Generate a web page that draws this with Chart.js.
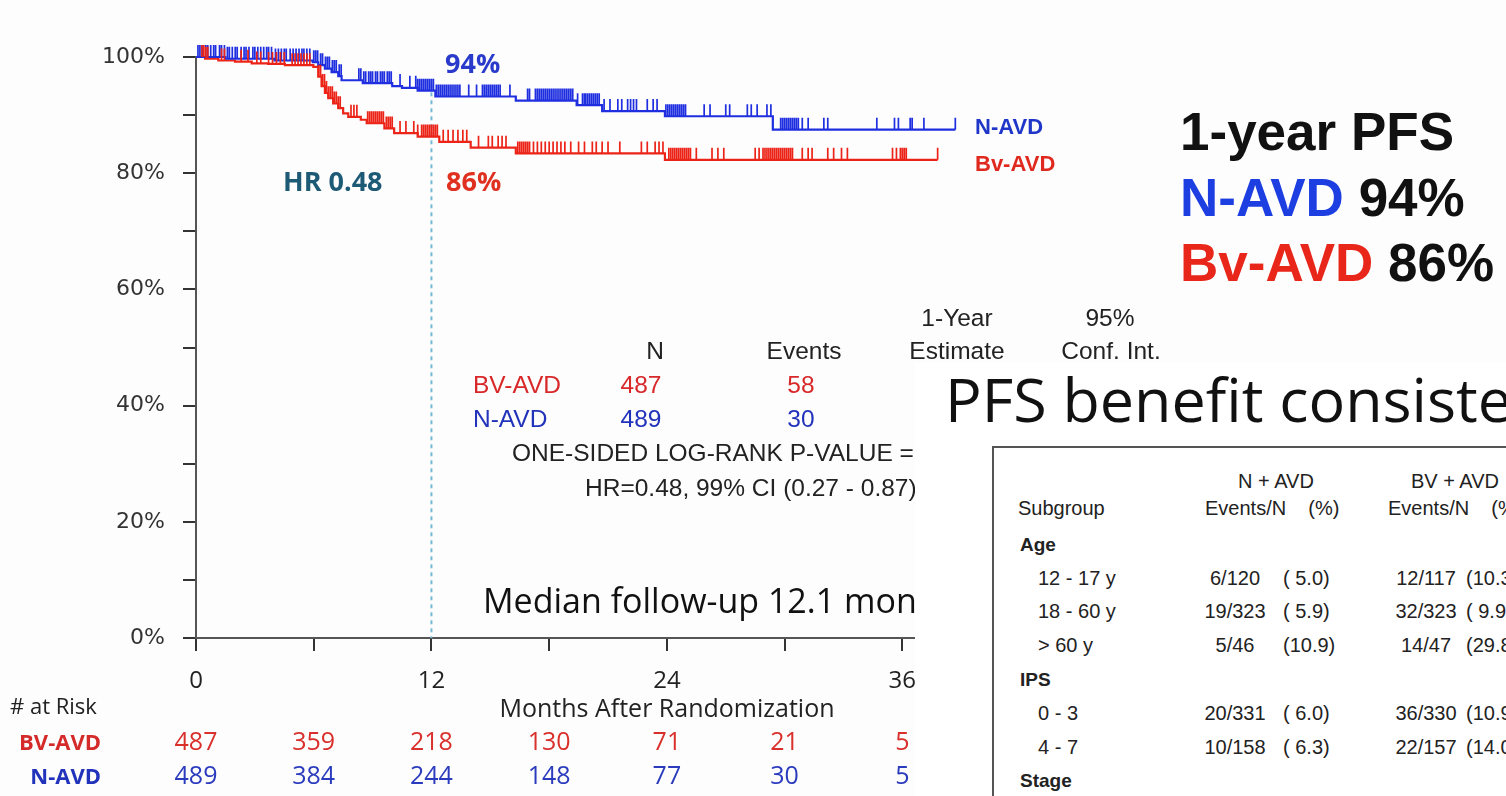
<!DOCTYPE html>
<html>
<head>
<meta charset="utf-8">
<script src="https://cdn.jsdelivr.net/npm/chart.js@4.4.1/dist/chart.umd.min.js"></script>
<style>
  html, body { margin: 0; padding: 0; background: #fdfdfd; overflow: hidden; }
  #wrap { position: relative; width: 1506px; height: 796px; overflow: hidden; }
  #km { position: absolute; left: 0; top: 0; }
  .t { position: absolute; line-height: 1; white-space: nowrap; }
  .c { transform: translateX(-50%); }
  .os { font-family: "Open Sans", sans-serif; }
  .ar { font-family: "Liberation Sans", Arial, sans-serif; }
  .b { font-weight: 700; }
  .blue { color: #1f36c8; }
  .red { color: #e0291e; }
  .st { font-size: 24.5px; color: #222; }
  .sg { font-size: 20px; color: #222; white-space: pre; }
  #panel { position: absolute; left: 915px; top: 362px; width: 591px; height: 434px; background: #fff; overflow: hidden; }
  #box { position: absolute; left: 77px; top: 84px; width: 600px; height: 400px; border-left: 2px solid #555; border-top: 2px solid #555; }
</style>
</head>
<body>
<div id="wrap">
  <canvas id="km" width="1506" height="796"></canvas>

  <!-- annotations on the curve -->
  <div class="t os b" style="left:445px;top:49px;font-size:27px;color:#2a3bcc">94%</div>
  <div class="t os b" style="left:283px;top:167px;font-size:27px;color:#1d5a76">HR 0.48</div>
  <div class="t os b" style="left:446px;top:167px;font-size:27px;color:#e0301f">86%</div>
  <div class="t ar b blue" style="left:975px;top:116px;font-size:22px">N-AVD</div>
  <div class="t ar b red" style="left:975px;top:153px;font-size:22px">Bv-AVD</div>

  <!-- 1-year PFS summary -->
  <div class="t ar b" style="left:1180px;top:105px;font-size:53px;color:#111">1-year PFS</div>
  <div class="t ar b" style="left:1180px;top:171px;font-size:53px;color:#111"><span style="color:#1d3ee0">N-AVD</span> 94%</div>
  <div class="t ar b" style="left:1180px;top:236px;font-size:53px;color:#111"><span style="color:#e8261a">Bv-AVD</span> 86%</div>

  <!-- stats table -->
  <div class="t ar c st" style="left:957px;top:306px">1-Year</div>
  <div class="t ar c st" style="left:1110px;top:306px">95%</div>
  <div class="t ar c st" style="left:655px;top:339px">N</div>
  <div class="t ar c st" style="left:804px;top:339px">Events</div>
  <div class="t ar c st" style="left:957px;top:339px">Estimate</div>
  <div class="t ar c st" style="left:1111px;top:339px">Conf. Int.</div>
  <div class="t ar st" style="left:473px;top:373px;color:#d8282a">BV-AVD</div>
  <div class="t ar c st" style="left:641px;top:373px;color:#d8282a">487</div>
  <div class="t ar c st" style="left:801px;top:373px;color:#d8282a">58</div>
  <div class="t ar st" style="left:473px;top:407px;color:#2233bb">N-AVD</div>
  <div class="t ar c st" style="left:641px;top:407px;color:#2233bb">489</div>
  <div class="t ar c st" style="left:801px;top:407px;color:#2233bb">30</div>
  <div class="t ar st" style="left:512px;top:441px">ONE-SIDED LOG-RANK P-VALUE =</div>
  <div class="t ar st" style="left:585px;top:476px">HR=0.48, 99% CI (0.27 - 0.87)</div>
  <div class="t os" style="left:483px;top:583px;font-size:34px;color:#111">Median follow-up 12.1 months</div>

  <!-- axis title and at-risk labels -->
  <div class="t os c" style="left:667px;top:695px;font-size:25px;color:#222">Months After Randomization</div>
  <div class="t os" style="left:10px;top:694px;font-size:22px;color:#222"># at Risk</div>
  <div class="t os b" style="right:1405px;top:730px;font-size:22px;color:#d42a2a">BV-AVD</div>
  <div class="t os b" style="right:1405px;top:764px;font-size:22px;color:#2233bb">N-AVD</div>

  <!-- overlaid subgroup slide -->
  <div id="panel">
    <div class="t os" style="left:30px;top:6px;font-size:61px;color:#111">PFS benefit consistent</div>
    <div id="box"></div>
    <div class="t ar c sg" style="left:361px;top:109px">N + AVD</div>
    <div class="t ar c sg" style="left:540px;top:109px">BV + AVD</div>
    <div class="t ar sg" style="left:103px;top:136px">Subgroup</div>
    <div class="t ar sg" style="left:290px;top:136px">Events/N    (%)</div>
    <div class="t ar sg" style="left:473px;top:136px">Events/N    (%)</div>
    <div class="t ar b sg" style="left:105px;top:173px;font-size:19px">Age</div>
    <div class="t ar sg" style="left:123px;top:206px">12 - 17 y</div>
    <div class="t ar sg" style="left:123px;top:239px">18 - 60 y</div>
    <div class="t ar sg" style="left:123px;top:273px">&gt; 60 y</div>
    <div class="t ar b sg" style="left:105px;top:308px;font-size:19px">IPS</div>
    <div class="t ar sg" style="left:123px;top:341px">0 - 3</div>
    <div class="t ar sg" style="left:123px;top:375px">4 - 7</div>
    <div class="t ar b sg" style="left:105px;top:409px;font-size:19px">Stage</div>
    <div class="t ar c sg" style="left:320px;top:206px">6/120</div>
    <div class="t ar c sg" style="left:320px;top:239px">19/323</div>
    <div class="t ar c sg" style="left:320px;top:273px">5/46</div>
    <div class="t ar c sg" style="left:320px;top:341px">20/331</div>
    <div class="t ar c sg" style="left:320px;top:375px">10/158</div>
    <div class="t ar sg" style="left:368px;top:206px">( 5.0)</div>
    <div class="t ar sg" style="left:368px;top:239px">( 5.9)</div>
    <div class="t ar sg" style="left:368px;top:273px">(10.9)</div>
    <div class="t ar sg" style="left:368px;top:341px">( 6.0)</div>
    <div class="t ar sg" style="left:368px;top:375px">( 6.3)</div>
    <div class="t ar c sg" style="left:511px;top:206px">12/117</div>
    <div class="t ar c sg" style="left:511px;top:239px">32/323</div>
    <div class="t ar c sg" style="left:511px;top:273px">14/47</div>
    <div class="t ar c sg" style="left:511px;top:341px">36/330</div>
    <div class="t ar c sg" style="left:511px;top:375px">22/157</div>
    <div class="t ar sg" style="left:551px;top:206px">(10.3)</div>
    <div class="t ar sg" style="left:551px;top:239px">( 9.9)</div>
    <div class="t ar sg" style="left:551px;top:273px">(29.8)</div>
    <div class="t ar sg" style="left:551px;top:341px">(10.9)</div>
    <div class="t ar sg" style="left:551px;top:375px">(14.0)</div>
  </div>
</div>

<script>
// Kaplan-Meier step points: month where survival drops, and the new survival (%)
const monthsN = [0, 1.5, 4.0, 5.95, 6.23, 6.57, 6.91, 7.25, 7.42, 8.5, 10.0, 10.5, 11.3, 12.2, 16.3, 19.4, 20.7, 23.9, 29.4];
const survN = [100, 99.7, 99.4, 99.1, 98.6, 98.0, 97.4, 96.7, 96.0, 95.5, 95.0, 94.7, 94.2, 93.2, 92.5, 91.7, 90.7, 89.8, 87.5];
const lastN = 38.7;

const monthsBV = [0, 0.46, 1.14, 1.99, 2.84, 3.68, 4.53, 5.98, 6.23, 6.4, 6.57, 6.74, 6.99, 7.25, 7.5, 7.76, 8.4, 8.7, 9.6, 10.1, 11.3, 12.4, 14.0, 16.3, 23.9];
const survBV = [100, 99.7, 99.4, 99.2, 98.9, 98.8, 98.6, 98.3, 96.6, 95.0, 93.8, 92.9, 92.0, 91.2, 90.3, 89.7, 89.2, 88.6, 87.7, 86.9, 86.3, 85.4, 84.4, 83.4, 82.3];
const lastBV = 37.8;

// censored observations (months)
const censorN = [0.1, 0.2, 0.35, 0.5, 0.6, 0.75, 0.9, 1.0, 1.2, 1.3, 1.45, 1.6, 1.7, 1.85, 2.0, 2.1, 2.3, 2.45, 2.55, 2.7,
  2.9, 3.0, 3.15, 3.3, 3.45, 3.6, 3.7, 3.85, 4.05, 4.2, 4.35, 4.5, 4.6, 4.8, 4.95, 5.1, 5.25, 5.4, 5.5, 5.65, 5.8,
  6.0, 6.1, 6.2, 6.35, 6.45, 6.6, 6.7, 6.8, 6.95, 7.05, 7.15, 7.3, 7.4,
  8.3, 8.4, 8.55, 8.65, 8.8, 8.9, 9.0, 9.15, 9.25, 9.4, 9.5, 9.6, 9.75, 9.85, 9.95, 10.4, 10.9,
  11.2, 11.3, 11.4, 11.5, 11.6, 11.7, 11.8, 11.9, 12.0, 12.1, 12.25, 12.35, 12.45, 12.55, 12.65, 12.75, 12.85, 12.95,
  13.05, 13.15, 13.25, 13.35, 13.45, 13.9, 14.3, 14.6, 14.7, 14.8, 14.9, 15.0, 15.1, 15.2, 15.3, 15.4, 15.5,
  16.0, 16.9, 17.0, 17.3, 17.4, 17.5, 17.6, 17.7, 17.8, 17.9, 18.0, 18.1, 18.2, 18.3, 18.4, 18.5, 18.6, 18.7,
  18.8, 18.9, 19.0, 19.1, 19.2, 19.45, 19.7, 19.8, 19.85, 19.95, 20.05, 20.15, 20.25, 20.35, 20.45, 20.55,
  20.8, 21.1, 21.5, 21.7, 22.0, 22.15, 22.3, 22.45, 23.0, 23.3, 23.5,
  23.95, 24.05, 24.15, 24.25, 24.35, 24.45, 24.55, 24.65, 24.75, 24.85, 24.95,
  25.9, 26.2, 27.0, 27.2, 28.1, 28.3, 28.6, 29.1, 29.3,
  29.8, 29.9, 30.0, 30.1, 30.2, 30.3, 30.4, 30.5, 30.6, 30.7,
  30.9, 31.2, 32.0, 32.2, 34.7, 35.6, 35.8, 36.4, 36.5, 37.1, 38.7];

const censorBV = [0.3, 0.4, 0.5, 0.6, 1.3, 1.45, 2.3, 2.65, 3.1, 3.3, 3.7, 3.9, 4.1, 4.3, 4.5, 4.9, 5.05, 5.2, 5.35, 5.5, 5.65, 5.8,
  6.25, 6.35, 6.45, 6.55, 6.65, 6.75, 6.85, 6.95, 7.05, 7.15, 7.25, 7.35, 7.9, 8.05, 8.2,
  8.75, 8.85, 8.95, 9.05, 9.15, 9.25, 9.35, 9.45, 9.55, 9.7, 9.8, 9.9, 10.0, 10.4, 10.7, 11.1, 11.3,
  11.5, 11.6, 11.7, 11.8, 11.9, 12.0, 12.1, 12.2, 12.3,
  12.6, 12.85, 13.1, 13.35, 13.6, 13.8, 14.4, 14.9, 15.1, 15.4, 15.6, 15.8,
  16.4, 16.5, 16.6, 16.7, 16.8, 16.9, 17.0, 17.2, 17.4, 17.6, 17.8, 18.0, 18.2, 18.4, 18.6, 18.8,
  19.1, 19.5, 19.8, 20.2, 20.4, 20.7, 21.0, 21.6, 22.7, 23.0, 23.4, 23.6, 23.8,
  24.1, 24.2, 24.3, 24.4, 24.5, 24.6, 24.7, 24.8, 24.9, 25.0, 25.1, 25.2,
  25.5, 26.3, 26.6, 26.9, 28.5, 28.7,
  28.9, 29.0, 29.1, 29.2, 29.3, 29.4, 29.5, 29.6, 29.7, 29.8, 29.9, 30.0, 30.1, 30.2, 30.3, 30.4,
  30.9, 31.2, 31.4, 32.2, 32.5, 32.9, 33.2, 35.5, 35.7, 35.9, 36.0, 36.1, 36.2, 37.8];

// number at risk
const riskMonths = [0, 6, 12, 18, 24, 30, 36];
const riskBV = [487, 359, 218, 130, 71, 21, 5];
const riskN = [489, 384, 244, 148, 77, 30, 5];

const landmarkMonth = 12;

const blue = "#1f2fe0";
const red = "#ec2418";

function stepData(months, surv, last) {
  const pts = months.map((m, i) => ({ x: m, y: surv[i] }));
  pts.push({ x: last, y: surv[surv.length - 1] });
  return pts;
}

function survivalAt(months, surv, t) {
  let s = surv[0];
  for (let i = 0; i < months.length; i++) {
    if (months[i] <= t) s = surv[i];
  }
  return s;
}

// censor ticks drawn upward from the curve, plus the dotted 12-month line
const censorPlugin = {
  id: "censor",
  beforeDatasetsDraw(chart) {
    const { ctx, scales } = chart;
    const x = scales.x.getPixelForValue(landmarkMonth);
    ctx.save();
    ctx.strokeStyle = "#78b9d6";
    ctx.lineWidth = 2;
    ctx.setLineDash([4, 4]);
    ctx.beginPath();
    ctx.moveTo(x, scales.y.getPixelForValue(95.3));
    ctx.lineTo(x, scales.y.getPixelForValue(0));
    ctx.stroke();
    ctx.restore();
  },
  afterDatasetsDraw(chart) {
    const { ctx, scales } = chart;
    const groups = [
      [censorN, monthsN, survN, blue],
      [censorBV, monthsBV, survBV, red],
    ];
    ctx.save();
    ctx.lineWidth = 1.7;
    groups.forEach(([cens, months, surv, color]) => {
      ctx.strokeStyle = color;
      ctx.beginPath();
      cens.forEach((t) => {
        const px = scales.x.getPixelForValue(t);
        const py = scales.y.getPixelForValue(survivalAt(months, surv, t));
        ctx.moveTo(px, py);
        ctx.lineTo(px, py - 12);
      });
      ctx.stroke();
    });
    ctx.restore();
  },
};

// numbers at risk under the x axis
const riskPlugin = {
  id: "risk",
  afterDraw(chart) {
    const { ctx, scales } = chart;
    ctx.save();
    ctx.font = "25px 'Open Sans'";
    ctx.textAlign = "center";
    ctx.textBaseline = "middle";
    riskMonths.forEach((m, i) => {
      const px = scales.x.getPixelForValue(m);
      ctx.fillStyle = "#d9302c";
      ctx.fillText(riskBV[i], px, 743);
      ctx.fillStyle = "#2b3bbd";
      ctx.fillText(riskN[i], px, 777);
    });
    ctx.restore();
  },
};

new Chart(document.getElementById("km"), {
  type: "line",
  data: {
    datasets: [
      {
        label: "N-AVD",
        data: stepData(monthsN, survN, lastN),
        borderColor: blue,
        borderWidth: 2.2,
        stepped: "before",
        pointRadius: 0,
        clip: false,
      },
      {
        label: "BV-AVD",
        data: stepData(monthsBV, survBV, lastBV),
        borderColor: red,
        borderWidth: 2.2,
        stepped: "before",
        pointRadius: 0,
        clip: false,
      },
    ],
  },
  options: {
    responsive: false,
    animation: false,
    parsing: false,
    layout: { padding: { left: 0, top: 57, right: 535, bottom: 0 } },
    plugins: { legend: { display: false }, tooltip: { enabled: false } },
    scales: {
      x: {
        type: "linear",
        min: 0,
        max: 39.5,
        afterFit: (s) => { s.height = 158; },
        ticks: {
          stepSize: 6,
          includeBounds: false,
          autoSkip: false,
          maxRotation: 0,
          padding: 16,
          color: "#222",
          font: { family: "Open Sans", size: 24 },
          callback: (v) => (v % 12 === 0 ? String(v) : ""),
        },
        grid: { drawOnChartArea: false, drawTicks: true, tickLength: 13, color: "#333", lineWidth: 2 },
        border: { color: "#555", width: 2 },
      },
      y: {
        min: 0,
        max: 100,
        afterFit: (s) => { s.width = 196; },
        ticks: {
          stepSize: 10,
          padding: 18,
          color: "#333",
          font: { family: "DejaVu Sans", size: 22 },
          callback: (v) => (v % 20 === 0 ? v + "%" : ""),
        },
        grid: { drawOnChartArea: false, drawTicks: true, tickLength: 13, color: "#333", lineWidth: 2 },
        border: { color: "#555", width: 2 },
      },
    },
  },
  plugins: [censorPlugin, riskPlugin],
});
</script>
</body>
</html>
